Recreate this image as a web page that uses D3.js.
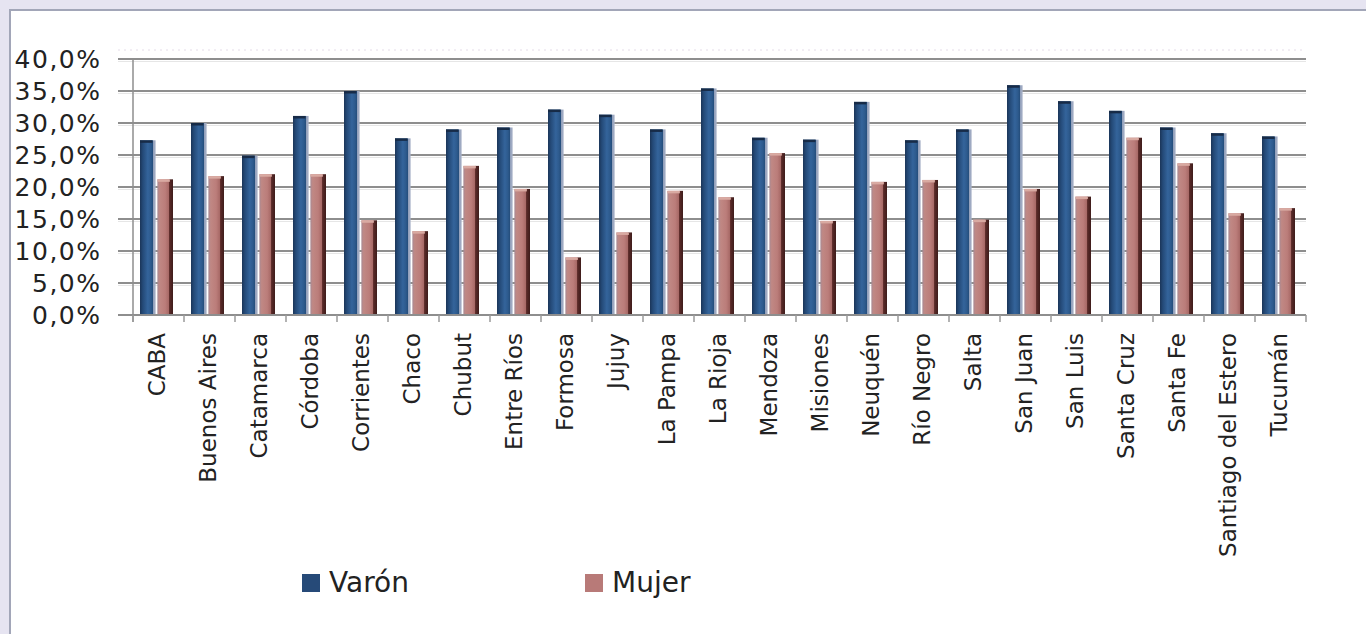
<!DOCTYPE html>
<html>
<head>
<meta charset="utf-8">
<script src="https://cdn.jsdelivr.net/npm/d3@7"></script>
<style>
  html, body { margin: 0; padding: 0; background: #e6e4f1; overflow: hidden; }
  svg { display: block; }
  text { font-family: "DejaVu Sans", Verdana, sans-serif; fill: #222; }
</style>
</head>
<body>
<svg id="chart" width="1366" height="634"></svg>
<script>
// Provinces along the category axis
const categories = ["CABA", "Buenos Aires", "Catamarca", "Córdoba", "Corrientes", "Chaco",
  "Chubut", "Entre Ríos", "Formosa", "Jujuy", "La Pampa", "La Rioja", "Mendoza", "Misiones",
  "Neuquén", "Río Negro", "Salta", "San Juan", "San Luis", "Santa Cruz", "Santa Fe",
  "Santiago del Estero", "Tucumán"];

const seriesNames = ["Varón", "Mujer"];

// Percentages per province
const varon = [27.3, 30.0, 24.9, 31.1, 35.0, 27.6, 29.0, 29.3, 32.1, 31.3, 29.0, 35.4,
  27.7, 27.4, 33.3, 27.3, 29.0, 35.9, 33.4, 31.9, 29.3, 28.4, 27.9];
const mujer = [21.2, 21.7, 22.0, 22.0, 14.8, 13.1, 23.3, 19.7, 9.0, 12.9, 19.4, 18.4,
  25.3, 14.7, 20.8, 21.1, 14.9, 19.7, 18.5, 27.7, 23.7, 15.9, 16.7];

const yTicks = [0, 5, 10, 15, 20, 25, 30, 35, 40];

const svg = d3.select("#chart");

// chart frame
svg.append("rect")
  .attr("x", 10).attr("y", 10).attr("width", 1400).attr("height", 700)
  .attr("fill", "#ffffff").attr("stroke", "#a2a6b8").attr("stroke-width", 2);

const plotLeft = 133, plotRight = 1306, plotTop = 59, plotBottom = 315, wallLeft = 118;

const y = d3.scaleLinear().domain([0, 40]).range([plotBottom, plotTop]);
const x0 = d3.scaleBand().domain(categories).range([plotLeft, plotRight]).padding(0);
const x1 = d3.scaleBand().domain(seriesNames).range([7, 40]).paddingInner(0.1);

const locale = d3.formatLocale({ decimal: ",", thousands: ".", grouping: [3], currency: ["$", ""] });
const fmt = v => locale.format(".1f")(v) + "%";

// gradients for the shaded bar faces
const defs = svg.append("defs");
function hGrad(id, stops) {
  const g = defs.append("linearGradient").attr("id", id)
    .attr("x1", 0).attr("x2", 1).attr("y1", 0).attr("y2", 0);
  stops.forEach(([o, c]) => g.append("stop").attr("offset", o).attr("stop-color", c));
}
hGrad("gVaron", [[0, "#1b3558"], [0.18, "#244a78"], [0.5, "#34649b"], [0.7, "#2d5a8d"],
  [0.8, "#26507f"], [0.82, "#8d9cb8"], [1, "#aab3c9"]]);
hGrad("gMujer", [[0, "#a88a94"], [0.15, "#c08884"], [0.5, "#bb7d7a"], [0.72, "#a86a67"],
  [0.78, "#5a2a28"], [1, "#3e1c1b"]]);

// back wall top edge
svg.append("line")
  .attr("x1", wallLeft).attr("x2", plotRight).attr("y1", 50).attr("y2", 50)
  .attr("stroke", "#e4dce8").attr("stroke-width", 1).attr("stroke-dasharray", "2,4");

// gridlines
const grid = svg.append("g");
grid.selectAll("line.shade").data(yTicks.slice(1)).join("line")
  .attr("class", "shade")
  .attr("x1", wallLeft).attr("x2", plotRight)
  .attr("y1", d => y(d) + 2.5).attr("y2", d => y(d) + 2.5)
  .attr("stroke", "#e6e6e6").attr("stroke-width", 1);
grid.selectAll("line.major").data(yTicks).join("line")
  .attr("class", "major")
  .attr("x1", wallLeft).attr("x2", plotRight)
  .attr("y1", d => y(d)).attr("y2", d => y(d))
  .attr("stroke", "#8e8e8e").attr("stroke-width", 2);

// vertical axis line
svg.append("line")
  .attr("x1", plotLeft).attr("x2", plotLeft).attr("y1", plotTop).attr("y2", plotBottom + 7)
  .attr("stroke", "#8e8e8e").attr("stroke-width", 1.5);

// category tick marks
const tickXs = categories.map(c => x0(c)).concat([plotRight]);
svg.append("g").selectAll("line").data(tickXs).join("line")
  .attr("x1", d => d).attr("x2", d => d)
  .attr("y1", plotBottom).attr("y2", plotBottom + 7)
  .attr("stroke", "#9a9a9a").attr("stroke-width", 1.5);

// y-axis labels
svg.append("g").selectAll("text").data(yTicks).join("text")
  .attr("x", 101.5).attr("y", d => y(d)).attr("dy", "0.36em")
  .attr("text-anchor", "end")
  .style("font-size", "25px").style("letter-spacing", "1.5px")
  .text(fmt);

// bars
const rows = categories.map((c, i) => ({ cat: c, values: [
  { key: "Varón", value: varon[i] }, { key: "Mujer", value: mujer[i] }] }));

const groups = svg.append("g").selectAll("g").data(rows).join("g")
  .attr("transform", d => `translate(${x0(d.cat)},0)`);

groups.selectAll("rect").data(d => d.values).join("rect")
  .attr("x", d => x1(d.key))
  .attr("width", x1.bandwidth())
  .attr("y", d => y(d.value))
  .attr("height", d => plotBottom - 1 - y(d.value))
  .attr("fill", d => d.key === "Varón" ? "url(#gVaron)" : "url(#gMujer)");

// bar caps
groups.selectAll("rect.cap").data(d => d.values).join("rect")
  .attr("class", "cap")
  .attr("x", d => x1(d.key))
  .attr("width", x1.bandwidth() * 0.8)
  .attr("y", d => y(d.value))
  .attr("height", 2.5)
  .attr("fill", d => d.key === "Varón" ? "#172b47" : "#d9aaa2");

// category labels
svg.append("g").selectAll("text").data(categories).join("text")
  .attr("transform", c => `translate(${x0(c) + x0.bandwidth() / 2 - 2},333) rotate(-90)`)
  .attr("dy", "0.36em")
  .attr("text-anchor", "end")
  .style("font-size", "23px")
  .text(c => c);

// legend
const legend = svg.append("g");
const legendItems = [
  { key: "Varón", x: 302, fill: "#264a78" },
  { key: "Mujer", x: 585, fill: "#b87a78" }
];
legend.selectAll("rect").data(legendItems).join("rect")
  .attr("x", d => d.x).attr("y", 574).attr("width", 18).attr("height", 18)
  .attr("fill", d => d.fill);
legend.selectAll("text").data(legendItems).join("text")
  .attr("x", d => d.x + 27).attr("y", 592)
  .style("font-size", "28px")
  .text(d => d.key);
</script>
</body>
</html>
